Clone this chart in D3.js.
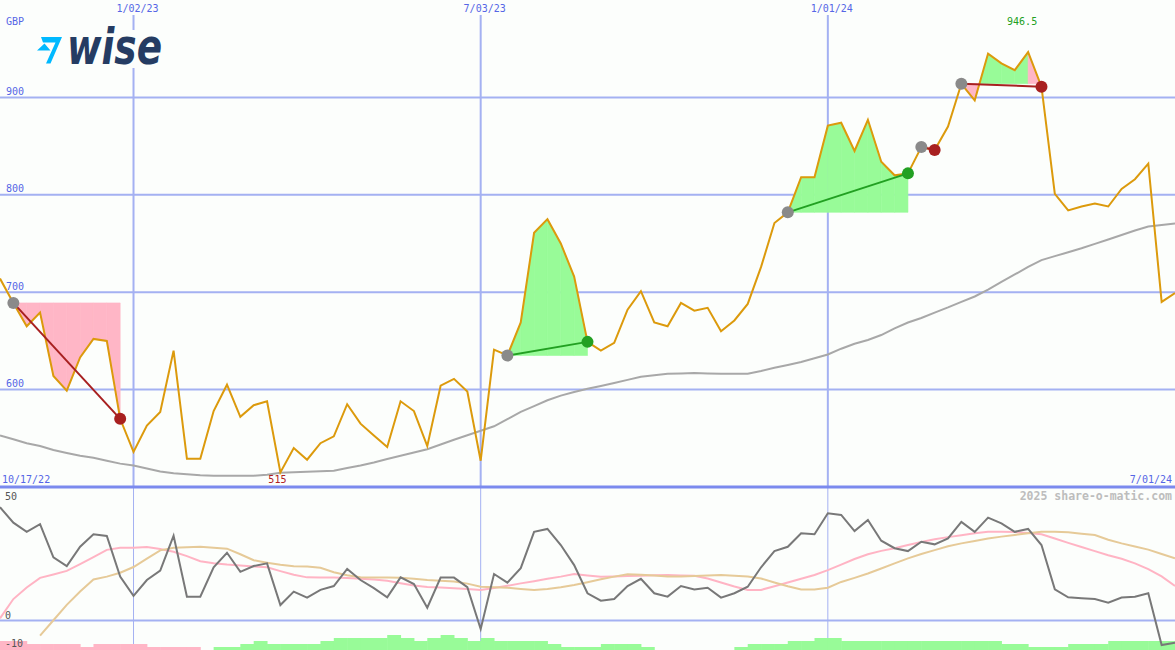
<!DOCTYPE html>
<html><head><meta charset="utf-8">
<script src="https://cdn.jsdelivr.net/npm/d3@7"></script>
<style>html,body{margin:0;padding:0;background:#fcfefc;} svg{display:block}</style>
</head><body><svg id="c" width="1175" height="650"></svg>
<script>
// ---------------- DATA ----------------
const startDate = "2022-10-24", endDate = "2024-07-01";
const currency = "GBP";
const startLabel = "10/17/22", endLabel = "7/01/24";
const watermark = "2025 share-o-matic.com";
const price = [714,689,665,679,614,599,633,652,650,570, 536,563,577,640,529,529,578,605,572,584,
  588,515,540,528,545,552,585,565,553,541, 588,578,542,604,611,598,527,641,635,669,
  761,775,750,716,649,640,648,682,701,669, 665,689,681,684,660,671,688,726,771,782,
  818,818,871,874,845,877,834,820,822,849, 846,870,914,897,945,935,928,946.5,911,801,
  784,788,791,788,806,816,832,690,699];
const priceMA = [553,549,545,542,538,535,532,530,527,524, 522,519,516,514,513,512,511.5,511.5,511.5,511.5,
  512.6,514.6,515.1,515.6,516.1,516.7,519.5,522.1,525.1,528.7, 532,535.4,538.8,543.7,548.5,553.2,557.8,562.3,569.6,577.1,
  583.1,589.1,593.8,597.6,600.9,603.8,606.8,610,613.1,614.7, 616.3,616.6,617,616.6,616.3,616.3,616.3,619.1,622.4,625.3,
  628.4,632.1,636.1,642,647,651,656,662.9,668.9,673.5, 679.1,684.4,690.1,695.6,702.7,710.7,718.2,725.9,733,737,
  741,745.1,749.6,754.1,758.7,763.3,767.4,769.1,770.6];
const osc = [47.0,40.6,36.8,40.0,26.2,22.6,30.6,35.8,35.1,18.2, 10.2,16.8,20.7,35.2,9.9,9.9,22.1,28.1,20.2,22.6,
  23.7,6.4,12.0,9.5,12.7,14.3,21.4,16.8,13.4,9.6, 17.9,15.1,5.3,17.8,17.8,13.8,-3.5,19.3,15.7,21.7,
  36.8,38.0,31.3,23.0,11.3,8.2,8.9,14.3,17.3,11.3, 9.9,14.3,12.9,13.6,9.5,11.3,14.0,22.1,28.8,30.6,
  36.2,35.8,44.5,43.8,37.1,41.7,33.1,30.0,28.8,32.7, 31.6,34.1,40.9,36.8,42.7,40.3,36.8,38.0,31.3,12.9,
  9.6,9.2,8.9,7.4,9.5,9.9,11.3,-10.2,-9.2];
const oscPink = [0.9,8.9,13.7,17.7,19.1,20.6,23.4,26.3,29.3,30.2, 30.2,30.5,29.7,28.5,26.7,24.6,23.8,23.2,22.8,22.4,
  22.1,20.5,19.0,17.9,17.8,17.8,17.6,17.3,17.0,16.5, 15.5,14.5,13.9,13.7,13.4,13.1,12.7,13.5,14.4,15.4,
  16.3,17.3,18.2,19.3,18.7,18.2,18.3,18.5,18.6,18.8, 18.9,18.7,18.6,17.4,15.8,14.1,12.7,12.7,14.2,15.8,
  17.3,18.9,20.9,23.2,25.5,27.5,28.9,30.0,31.3,32.6, 33.7,34.6,35.4,36.2,36.8,36.8,36.7,36.3,35.8,34.0,
  32.2,30.5,28.8,27.1,25.6,23.7,21.3,18.3,14.3];
const oscTan = [null,null,null,-6.3,0.1,6.5,12.0,17.0,18.2,19.8, 22.2,25.7,29.1,30.2,30.4,30.6,30.2,29.8,27.5,25.0,
  24.0,23.1,22.5,22.4,21.9,20.0,18.8,17.9,17.8,17.8, 17.7,17.3,16.8,16.5,16.2,15.3,14.0,13.8,13.6,13.1,
  12.7,13.1,13.8,14.7,15.9,17.1,18.2,19.2,19.0,18.7, 18.3,18.3,18.5,18.7,18.9,18.6,18.3,17.4,15.8,14.2,
  12.9,12.9,13.6,16.0,17.7,19.5,21.6,23.7,25.8,27.6, 29.2,30.8,32.0,33.0,34.0,34.8,35.5,36.2,36.8,36.8,
  36.6,36.0,35.5,33.5,32.0,30.7,29.4,27.6,25.8];
const oscBars = [-3,-3,-2,-2,-2,-2,-1,-2,-2,-2, -2,-1,-1,-1,-1,0,1,1,2,3, 2,2,2,2,3,4,4,4,4,5,
  4,3,4,5,4,3,4,3,3,3, 3,2,1,1,1,2,2,2,1,0, 0,0,0,0,0,1,2,2,2,3,
  3,4,4,3,3,3,3,3,3,3, 3,3,3,3,3,2,2,1,1,1, 2,2,2,3,3,3,3,3,3];
const yTicks = [600,700,800,900];
const yTickLabels = ["600","700","800","900"];
const xTickDates = ["2023-01-02","2023-07-03","2024-01-01"];
const xTickLabels = ["1/02/23","7/03/23","1/01/24"];
const oscTicks = [50,0,-10];
const oscTickLabels = ["50","0","-10"];
const tradeEntry = ["2022-10-31","2023-07-17","2023-12-11","2024-02-19","2024-03-11"];
const tradeExit  = ["2022-12-26","2023-08-28","2024-02-12","2024-02-26","2024-04-22"];

// ---------------- SETUP ----------------
const W = 1175, H = 650, mainBottom = 487;
const parse = d3.utcParse("%Y-%m-%d");
const dates = d3.utcMonday.range(parse(startDate), d3.utcDay.offset(parse(endDate), 1));
const x = d3.scaleUtc().domain([parse(startDate), parse(endDate)]).range([0, W]);
const y = d3.scaleLinear().domain([500, 1000]).range([mainBottom, 0]);
const yo = d3.scaleLinear().domain([0, 50]).range([620.5, 500]);
const barH = d3.scaleLinear().domain([0, 5]).range([0, 15]);
const idx = s => dates.findIndex(d => +d === +parse(s));

const FONT = "'DejaVu Sans Mono', monospace";
const BLUE_T = "#5566e6", GRID = "#a4b1f2";
const svg = d3.select("#c");
svg.append("rect").attr("width", W).attr("height", H).attr("fill", "#fcfefc");

const defs = svg.append("defs");
defs.append("clipPath").attr("id", "cm").append("rect").attr("x", 0).attr("y", 0).attr("width", W).attr("height", mainBottom);
defs.append("clipPath").attr("id", "co").append("rect").attr("x", 0).attr("y", mainBottom + 1).attr("width", W).attr("height", H - mainBottom);

// ---------------- GRID ----------------
const g = svg.append("g");
g.selectAll("line.h").data(yTicks).join("line")
  .attr("x1", 0).attr("x2", W).attr("y1", d => y(d)).attr("y2", d => y(d))
  .attr("stroke", GRID).attr("stroke-width", 2);
g.selectAll("line.v").data(xTickDates).join("line")
  .attr("x1", d => x(parse(d))).attr("x2", d => x(parse(d))).attr("y1", 15).attr("y2", mainBottom)
  .attr("stroke", GRID).attr("stroke-width", 2);
g.selectAll("line.vo").data(xTickDates).join("line")
  .attr("x1", d => x(parse(d))).attr("x2", d => x(parse(d))).attr("y1", mainBottom).attr("y2", H)
  .attr("stroke", GRID).attr("stroke-width", 1);
g.append("line").attr("x1", 0).attr("x2", W).attr("y1", yo(0)).attr("y2", yo(0)).attr("stroke", GRID).attr("stroke-width", 2);

// ---------------- TRADE FILLS ----------------
const fills = svg.append("g").attr("clip-path", "url(#cm)");
tradeEntry.forEach((es, t) => {
  const ei = idx(es), xi = idx(tradeExit[t]);
  const base = price[ei], win = price[xi] >= base;
  const polys = [];
  for (let k = ei; k < xi; k++) {
    const x0 = x(dates[k]), x1 = x(dates[k + 1]), p0 = price[k], p1 = price[k + 1];
    const s0 = p0 - base, s1 = p1 - base;
    if (k === xi - 1) {
      polys.push({pts: [[x0, y(base)], [x0, y(p0)], [x1, y(p1)], [x1, y(base)]], up: win});
    } else if (s0 * s1 < 0) {
      const tt = s0 / (s0 - s1), xc = x0 + tt * (x1 - x0);
      polys.push({pts: [[x0, y(base)], [x0, y(p0)], [xc, y(base)]], up: s0 > 0});
      polys.push({pts: [[xc, y(base)], [x1, y(p1)], [x1, y(base)]], up: s1 > 0});
    } else {
      polys.push({pts: [[x0, y(base)], [x0, y(p0)], [x1, y(p1)], [x1, y(base)]], up: (s0 + s1) >= 0});
    }
  }
  fills.selectAll(null).data(polys).join("polygon")
    .attr("points", d => d.pts.map(p => p.join(",")).join(" "))
    .attr("fill", d => d.up ? "#98fb98" : "#ffb6c6")
    .attr("stroke", d => d.up ? "#98fb98" : "#ffb6c6").attr("stroke-width", 0.6);
});

// ---------------- LINES MAIN ----------------
const main = svg.append("g").attr("clip-path", "url(#cm)");
main.append("path").datum(priceMA)
  .attr("d", d3.line().x((d, i) => x(dates[i])).y(d => y(d)))
  .attr("fill", "none").attr("stroke", "#a8a8a8").attr("stroke-width", 2);
main.append("path").datum(price)
  .attr("d", d3.line().x((d, i) => x(dates[i])).y(d => y(d)))
  .attr("fill", "none").attr("stroke", "#dc9a0c").attr("stroke-width", 2).attr("stroke-linejoin", "miter");

// trade lines + markers
tradeEntry.forEach((es, t) => {
  const ei = idx(es), xi = idx(tradeExit[t]);
  const win = price[xi] >= price[ei];
  const col = win ? "#22a022" : "#a82020";
  main.append("line")
    .attr("x1", x(dates[ei])).attr("y1", y(price[ei])).attr("x2", x(dates[xi])).attr("y2", y(price[xi]))
    .attr("stroke", col).attr("stroke-width", 2);
  main.append("circle").attr("cx", x(dates[ei])).attr("cy", y(price[ei])).attr("r", 6).attr("fill", "#8a8a8a");
  main.append("circle").attr("cx", x(dates[xi])).attr("cy", y(price[xi])).attr("r", 6).attr("fill", col);
});

// ---------------- OSCILLATOR PANEL ----------------
const op = svg.append("g").attr("clip-path", "url(#co)");
op.selectAll("rect.bar").data(oscBars).join("rect")
  .attr("x", (d, i) => x(dates[i]))
  .attr("width", (d, i) => i < dates.length - 1 ? x(dates[i + 1]) - x(dates[i]) + 0.5 : x(dates[1]) - x(dates[0]))
  .attr("y", d => H - barH(Math.abs(d)))
  .attr("height", d => barH(Math.abs(d)))
  .attr("fill", d => d < 0 ? "#ffb6c6" : "#98fb98");
const ol = d3.line().defined(d => d !== null).x((d, i) => x(dates[i])).y(d => yo(d));
op.append("path").datum(oscPink).attr("d", ol).attr("fill", "none").attr("stroke", "#ffb4c4").attr("stroke-width", 2);
op.append("path").datum(oscTan).attr("d", ol).attr("fill", "none").attr("stroke", "#e6ca98").attr("stroke-width", 2);
op.append("path").datum(osc).attr("d", ol).attr("fill", "none").attr("stroke", "#787878").attr("stroke-width", 2);

// main bottom separator
svg.append("line").attr("x1", 0).attr("x2", W).attr("y1", mainBottom).attr("y2", mainBottom)
  .attr("stroke", "#7b8aee").attr("stroke-width", 3);

// ---------------- TEXT ----------------
const txt = (xx, yy, s, col, anchor, size, weight) => svg.append("text")
  .attr("x", xx).attr("y", yy).text(s).attr("fill", col).attr("text-anchor", anchor || "start")
  .attr("font-family", FONT).attr("font-size", size || 10).attr("font-weight", weight || "normal");

txt(6, 25, currency, BLUE_T);
yTicks.forEach((v, i) => txt(6, y(v) - 2.5, yTickLabels[i], BLUE_T));
xTickDates.forEach((d, i) => txt(x(parse(d)) + 4, 12, xTickLabels[i], BLUE_T, "middle"));
txt(2, 483, startLabel, BLUE_T);
txt(1172, 483, endLabel, BLUE_T, "end");
const minI = d3.minIndex(price), maxI = d3.maxIndex(price);
txt(x(dates[minI]) - 3, 483, String(price[minI]), "#b02020", "middle");
txt(x(dates[maxI]) - 6, 25, String(price[maxI]), "#22a022", "middle");
txt(1172, 500, watermark, "#bdbdbd", "end", 11.5, "bold");
oscTicks.forEach((v, i) => txt(5, yo(v) + (v === 0 ? -2 : v < 0 ? 2 : 0), oscTickLabels[i], "#555", "start", 10));

// ---------------- LOGO ----------------
const logo = svg.append("g");
logo.append("rect").attr("x", 30).attr("y", 30).attr("width", 138).attr("height", 38).attr("fill", "#fcfefc");
logo.append("path").attr("d", "M41,37 L62,37 L50.5,63.5 L46,63.5 L55.5,42.5 L43,42.5 Z M44.5,43.5 L50.5,50.5 L37,50.5 Z")
  .attr("fill", "#00b9ff");
logo.append("text").attr("x", 67).attr("y", 64)
  .attr("font-family", "'DejaVu Sans', sans-serif").attr("font-weight", "bold").attr("font-style", "italic")
  .attr("font-size", 50).attr("textLength", 95).attr("lengthAdjust", "spacingAndGlyphs")
  .attr("fill", "#253c63").text("wise");
</script></body></html>
